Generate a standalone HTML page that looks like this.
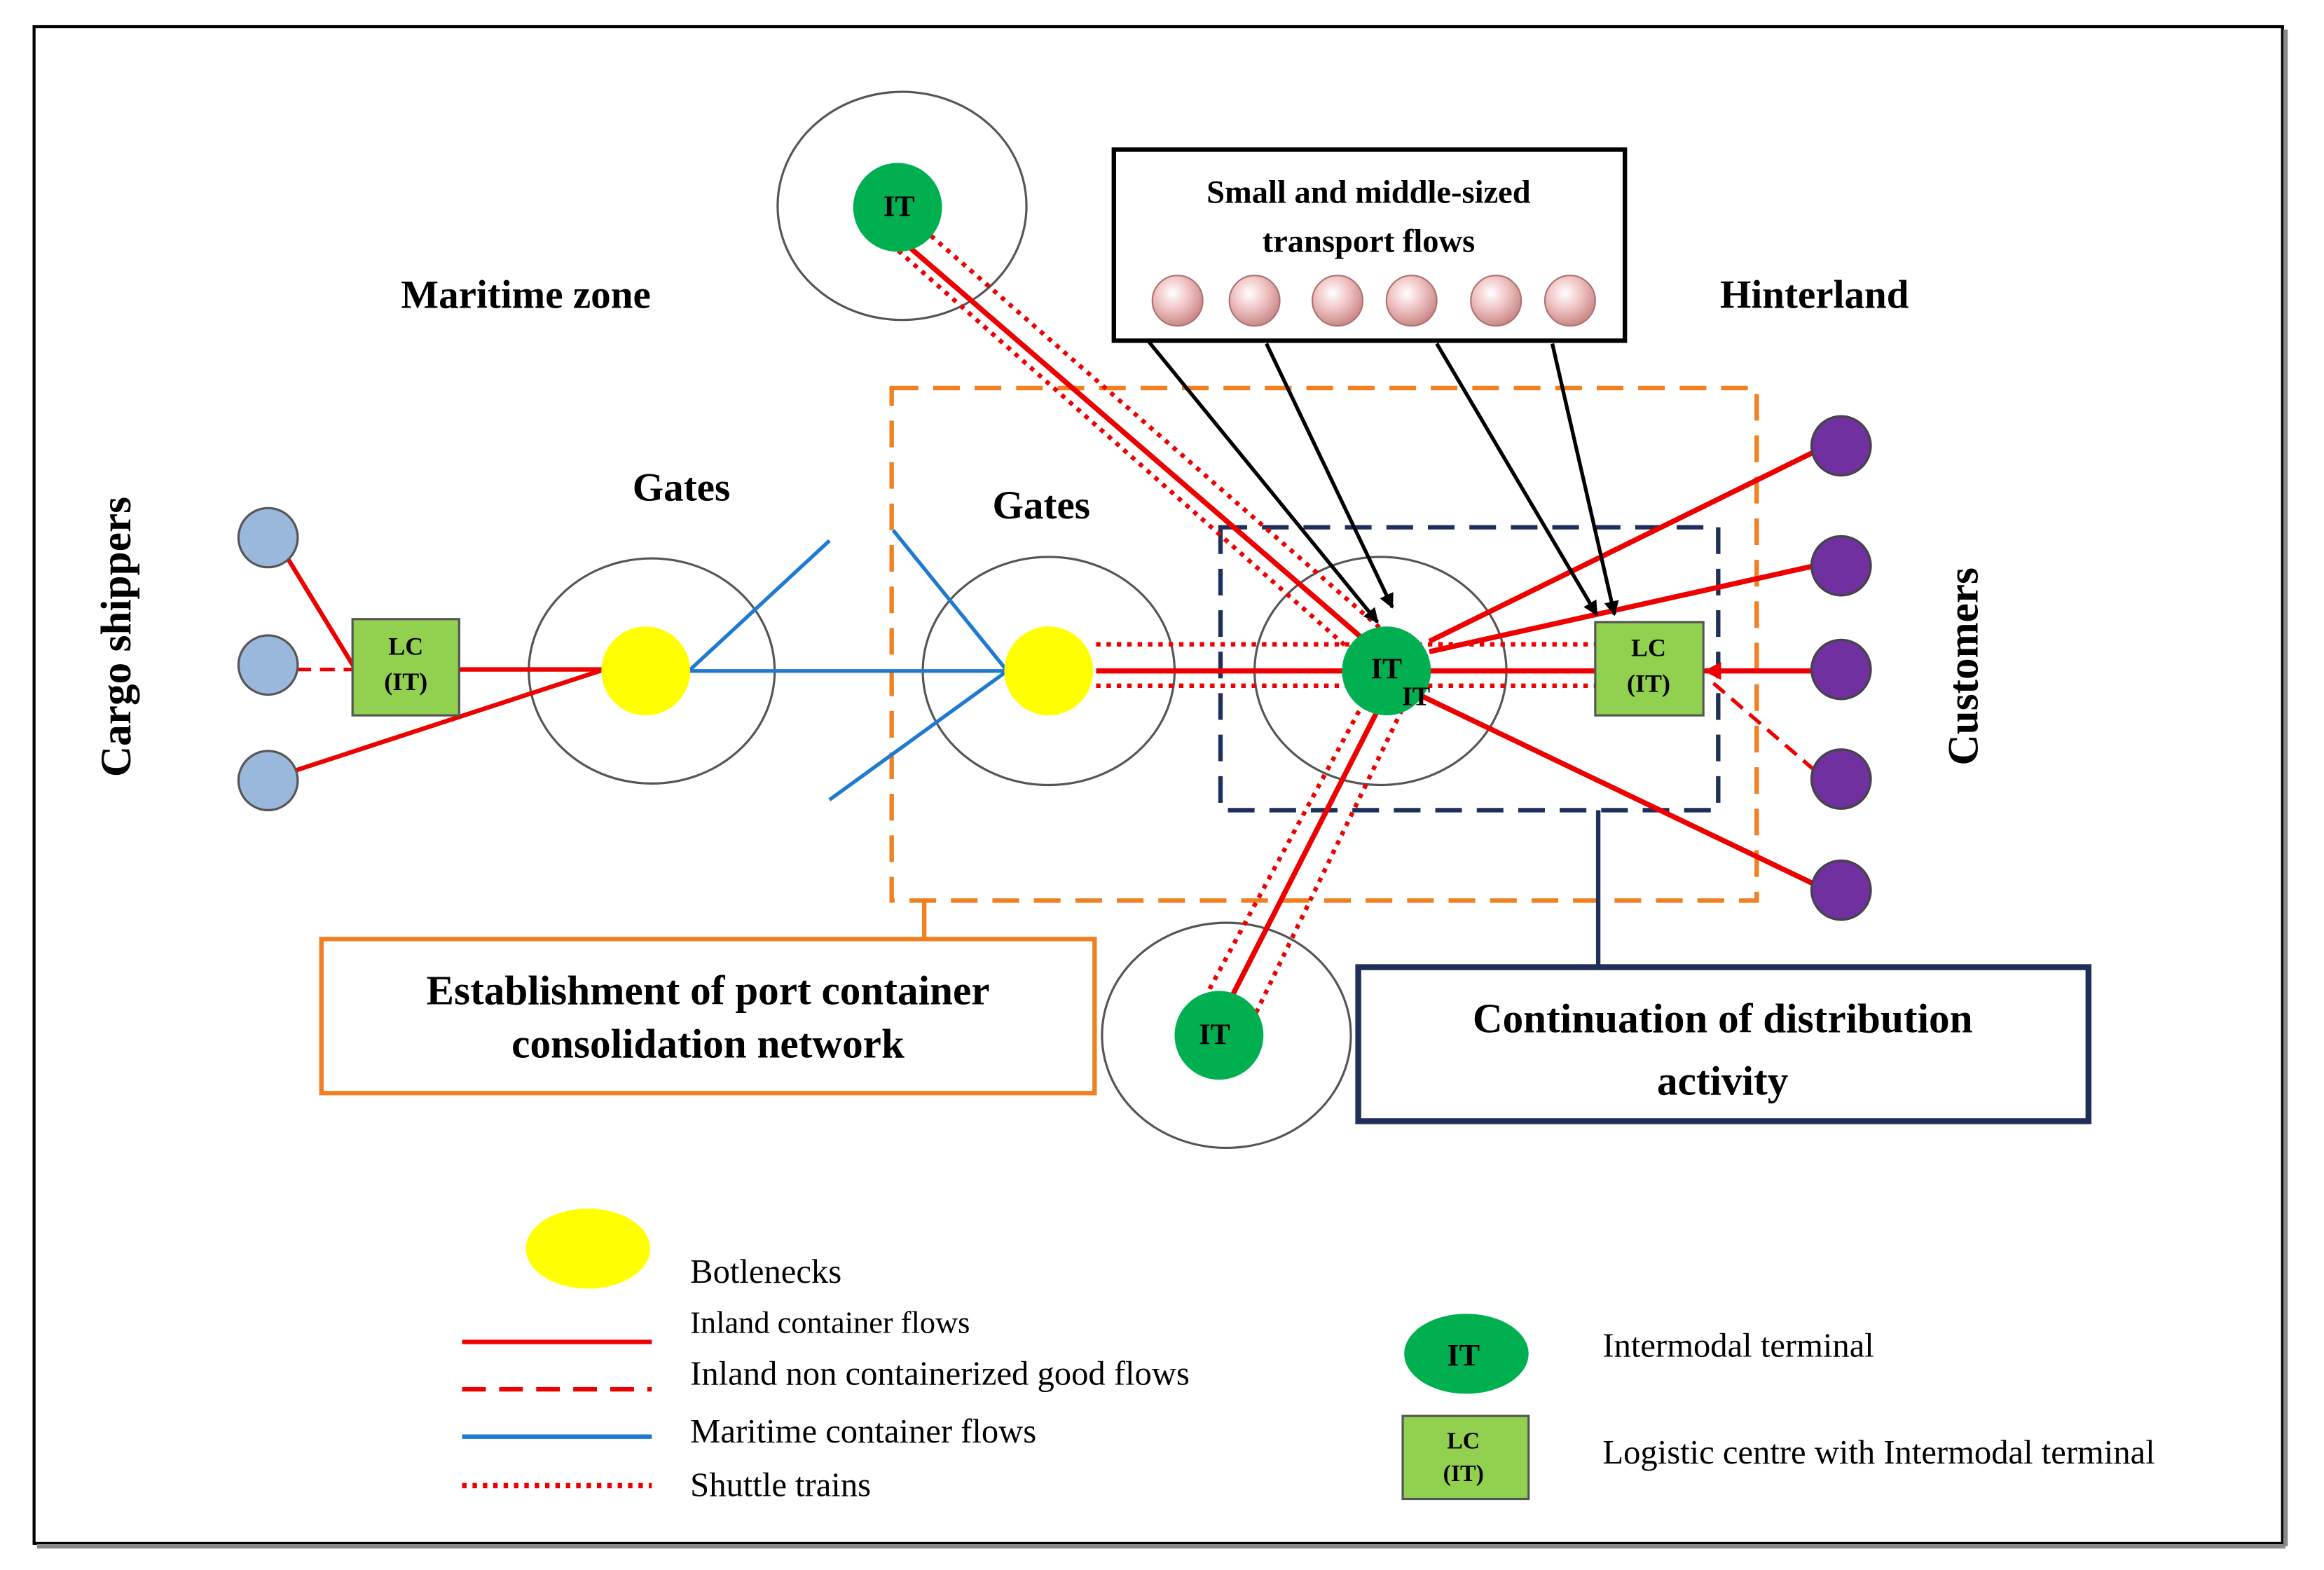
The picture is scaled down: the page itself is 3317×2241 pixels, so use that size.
<!DOCTYPE html>
<html><head><meta charset="utf-8"><style>
html,body{margin:0;padding:0;background:#fff}
svg{display:block}
text{font-family:"Liberation Serif",serif}
.b{font-weight:bold}
</style></head><body>
<svg width="3317" height="2241" viewBox="0 0 1569 1060" preserveAspectRatio="none" xmlns="http://www.w3.org/2000/svg">
<defs>
<radialGradient id="pk" cx="40%" cy="35%" r="65%"><stop offset="0" stop-color="#fff"/><stop offset="0.5" stop-color="#f0c4c4"/><stop offset="1" stop-color="#c98a8a"/></radialGradient>
<marker id="ar" markerWidth="10" markerHeight="10" refX="9" refY="5" orient="auto" markerUnits="userSpaceOnUse"><path d="M0,0 L10,5 L0,10 z" fill="#000"/></marker>
<marker id="arr" markerWidth="12" markerHeight="12" refX="10" refY="6" orient="auto" markerUnits="userSpaceOnUse"><path d="M0,0 L12,6 L0,12 z" fill="#e00"/></marker>
</defs>
<rect x="0" y="0" width="1569" height="1060" fill="#fff"/>
<rect x="23" y="18" width="1518" height="1024" fill="none" stroke="#000" stroke-width="2"/>
<line x1="1543" y1="20" x2="1543" y2="1044" stroke="#888" stroke-width="3"/>
<line x1="25" y1="1044" x2="1543" y2="1044" stroke="#888" stroke-width="3"/>

<text x="355" y="208" font-size="27" class="b" text-anchor="middle">Maritime zone</text>
<text x="1225" y="208" font-size="27" class="b" text-anchor="middle">Hinterland</text>
<text x="460" y="338" font-size="27" class="b" text-anchor="middle">Gates</text>
<text x="703" y="350" font-size="27" class="b" text-anchor="middle">Gates</text>
<text transform="translate(88,430) rotate(-90)" font-size="29" class="b" text-anchor="middle">Cargo shippers</text>
<text transform="translate(1335,450) rotate(-90)" font-size="29" class="b" text-anchor="middle">Customers</text>

<rect x="602" y="262" width="584" height="346" fill="none" stroke="#f08020" stroke-width="3" stroke-dasharray="18,10"/>
<rect x="824" y="356" width="336" height="191" fill="none" stroke="#1f2f5a" stroke-width="3" stroke-dasharray="18,10"/>

<ellipse cx="440" cy="453" rx="83" ry="76" fill="none" stroke="#555" stroke-width="1.5"/>
<ellipse cx="708" cy="453" rx="85" ry="77" fill="none" stroke="#555" stroke-width="1.5"/>
<ellipse cx="932" cy="453" rx="85" ry="77" fill="none" stroke="#555" stroke-width="1.5"/>
<ellipse cx="609" cy="139" rx="84" ry="77" fill="none" stroke="#555" stroke-width="1.5"/>
<ellipse cx="828" cy="699" rx="84" ry="76" fill="none" stroke="#555" stroke-width="1.5"/>

<line x1="193" y1="375" x2="240" y2="452" stroke="#e00" stroke-width="3"/>
<line x1="200" y1="452" x2="238" y2="452" stroke="#e00" stroke-width="2.5" stroke-dasharray="10,6"/>
<line x1="200" y1="520" x2="408" y2="452" stroke="#e00" stroke-width="3"/>
<line x1="310" y1="452" x2="408" y2="452" stroke="#e00" stroke-width="3"/>

<g stroke="#1e7ad0" stroke-width="2.5" fill="none">
<line x1="465" y1="453" x2="560" y2="365"/>
<line x1="465" y1="453" x2="680" y2="453"/>
<line x1="560" y1="540" x2="680" y2="453"/>
<line x1="603" y1="358" x2="680" y2="453"/>
</g>

<g stroke="#e00" stroke-width="3" stroke-dasharray="3,4" fill="none">
<line x1="740" y1="435" x2="1080" y2="435"/>
<line x1="740" y1="463" x2="1080" y2="463"/>
<line x1="596" y1="160" x2="922" y2="448"/>
<line x1="618" y1="150" x2="950" y2="440"/>
<line x1="810" y1="680" x2="924" y2="468"/>
<line x1="845" y1="690" x2="950" y2="472"/>
</g>
<g stroke="#e00" stroke-width="3.5" fill="none">
<line x1="740" y1="453" x2="1225" y2="453"/>
<line x1="606" y1="160" x2="936" y2="445"/>
<line x1="828" y1="680" x2="936" y2="468"/>
<line x1="965" y1="433" x2="1225" y2="305"/>
<line x1="965" y1="440" x2="1225" y2="382"/>
<line x1="960" y1="470" x2="1225" y2="597"/>
</g>
<line x1="1225" y1="520" x2="1153" y2="458" stroke="#e00" stroke-width="2.5" stroke-dasharray="10,6"/>
<line x1="1180" y1="453" x2="1152" y2="453" stroke="#e00" stroke-width="3" marker-end="url(#arr)"/>

<g stroke="#000" stroke-width="2.5" fill="none">
<line x1="775" y1="230" x2="930" y2="420" marker-end="url(#ar)"/>
<line x1="855" y1="232" x2="940" y2="410" marker-end="url(#ar)"/>
<line x1="970" y1="232" x2="1078" y2="415" marker-end="url(#ar)"/>
<line x1="1048" y1="232" x2="1090" y2="415" marker-end="url(#ar)"/>
</g>

<g fill="#9ab8dc" stroke="#555" stroke-width="1.5">
<circle cx="181" cy="363" r="20"/><circle cx="181" cy="449" r="20"/><circle cx="181" cy="527" r="20"/>
</g>
<rect x="238" y="418" width="72" height="65" fill="#92d050" stroke="#555" stroke-width="1.5"/>
<text x="274" y="442" font-size="17" class="b" text-anchor="middle">LC</text>
<text x="274" y="466" font-size="17" class="b" text-anchor="middle">(IT)</text>
<rect x="1077" y="420" width="73" height="63" fill="#92d050" stroke="#555" stroke-width="1.5"/>
<text x="1113" y="443" font-size="17" class="b" text-anchor="middle">LC</text>
<text x="1113" y="467" font-size="17" class="b" text-anchor="middle">(IT)</text>
<circle cx="436" cy="453" r="30" fill="#ffff00"/>
<circle cx="708" cy="453" r="30" fill="#ffff00"/>
<circle cx="936" cy="453" r="30" fill="#00b050"/>
<text x="936" y="458" font-size="20" class="b" text-anchor="middle">IT</text>
<text x="956" y="476" font-size="18" class="b" text-anchor="middle">IT</text>
<circle cx="606" cy="140" r="30" fill="#00b050"/>
<text x="607" y="146" font-size="20" class="b" text-anchor="middle">IT</text>
<circle cx="823" cy="699" r="30" fill="#00b050"/>
<text x="820" y="705" font-size="20" class="b" text-anchor="middle">IT</text>
<g fill="#7030a0" stroke="#444" stroke-width="1.5">
<circle cx="1243" cy="301" r="20"/><circle cx="1243" cy="382" r="20"/><circle cx="1243" cy="452" r="20"/><circle cx="1243" cy="526" r="20"/><circle cx="1243" cy="601" r="20"/>
</g>

<rect x="752" y="101" width="345" height="129" fill="#fff" stroke="#000" stroke-width="3"/>
<text x="924" y="137" font-size="22" class="b" text-anchor="middle">Small and middle-sized</text>
<text x="924" y="170" font-size="22" class="b" text-anchor="middle">transport flows</text>
<g fill="url(#pk)" stroke="#b07070" stroke-width="1">
<circle cx="795" cy="203" r="17"/><circle cx="847" cy="203" r="17"/><circle cx="903" cy="203" r="17"/><circle cx="953" cy="203" r="17"/><circle cx="1010" cy="203" r="17"/><circle cx="1060" cy="203" r="17"/>
</g>

<line x1="624" y1="608" x2="624" y2="634" stroke="#f08020" stroke-width="3"/>
<rect x="217" y="634" width="522" height="104" fill="#fff" stroke="#f08020" stroke-width="3"/>
<text x="478" y="678" font-size="28" class="b" text-anchor="middle">Establishment of port container</text>
<text x="478" y="714" font-size="28" class="b" text-anchor="middle">consolidation network</text>

<line x1="1079" y1="547" x2="1079" y2="653" stroke="#1f2f5a" stroke-width="3"/>
<rect x="917" y="653" width="493" height="104" fill="#fff" stroke="#1f2f5a" stroke-width="4"/>
<text x="1163" y="697" font-size="28" class="b" text-anchor="middle">Continuation of distribution</text>
<text x="1163" y="739" font-size="28" class="b" text-anchor="middle">activity</text>

<ellipse cx="397" cy="843" rx="42" ry="27" fill="#ffff00"/>
<text x="466" y="866" font-size="23">Botlenecks</text>
<text x="466" y="900" font-size="21">Inland container flows</text>
<line x1="312" y1="906" x2="440" y2="906" stroke="#e00" stroke-width="3"/>
<text x="466" y="935" font-size="23">Inland non containerized  good flows</text>
<line x1="312" y1="938" x2="440" y2="938" stroke="#e00" stroke-width="3" stroke-dasharray="16,9"/>
<text x="466" y="974" font-size="23">Maritime container  flows</text>
<line x1="312" y1="970" x2="440" y2="970" stroke="#1e7ad0" stroke-width="3"/>
<text x="466" y="1010" font-size="23">Shuttle trains</text>
<line x1="312" y1="1003" x2="440" y2="1003" stroke="#e00" stroke-width="3.5" stroke-dasharray="3,4"/>
<ellipse cx="990" cy="914" rx="42" ry="27" fill="#00b050"/>
<text x="988" y="922" font-size="21" class="b" text-anchor="middle">IT</text>
<rect x="947" y="956" width="85" height="56" fill="#92d050" stroke="#555" stroke-width="1.5"/>
<text x="988" y="978" font-size="16" class="b" text-anchor="middle">LC</text>
<text x="988" y="1000" font-size="16" class="b" text-anchor="middle">(IT)</text>
<text x="1082" y="916" font-size="23">Intermodal  terminal</text>
<text x="1082" y="988" font-size="23">Logistic centre with Intermodal  terminal</text>
</svg>
</body></html>
